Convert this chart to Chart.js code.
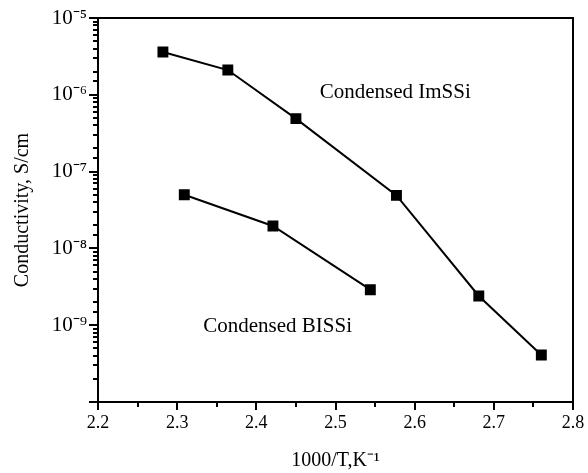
<!DOCTYPE html>
<html>
<head>
<meta charset="utf-8">
<script src="https://cdn.jsdelivr.net/npm/chart.js@4"></script>
<style>
  body { margin: 0; background: #fff; }
  #wrap { width: 588px; height: 473px; }
</style>
</head>
<body>
<div id="wrap"><canvas id="chart" width="588" height="473"></canvas></div>
<script>
// Conductivity vs inverse temperature
const imssiX = [2.282, 2.364, 2.450, 2.577, 2.681, 2.760];
const imssiY = [3.6e-6, 2.1e-6, 4.9e-7, 4.9e-8, 2.4e-9, 4.1e-10];

const bissiX = [2.309, 2.421, 2.544];
const bissiY = [5.0e-8, 1.96e-8, 2.9e-9];

const xMin = 2.2;
const xMax = 2.8;
const yMin = 1e-10;
const yMax = 1e-5;

const supDigits = { '-': '⁻', '0': '⁰', '1': '¹', '2': '²', '3': '³', '4': '⁴', '5': '⁵', '6': '⁶', '7': '⁷', '8': '⁸', '9': '⁹' };
function powLabel(exp) {
  return '10' + String(exp).split('').map(c => supDigits[c]).join('');
}

const toPoints = (xs, ys) => xs.map((x, i) => ({ x: x, y: ys[i] }));

const serif = '"Liberation Serif", "Times New Roman", serif';

// frame, outward tick marks and the two curve labels
const framePlugin = {
  id: 'frame',
  afterDraw(chart) {
    const { ctx, chartArea: a, scales } = chart;
    ctx.save();
    ctx.strokeStyle = '#000';
    ctx.lineWidth = 2;
    ctx.strokeRect(a.left, a.top, a.right - a.left, a.bottom - a.top);

    // y ticks (log)
    scales.y.ticks.forEach(t => {
      const p = Math.round(scales.y.getPixelForValue(t.value));
      const major = Math.abs(Math.log10(t.value) - Math.round(Math.log10(t.value))) < 1e-6;
      ctx.beginPath();
      ctx.moveTo(a.left, p);
      ctx.lineTo(a.left - (major ? 9 : 5), p);
      ctx.stroke();
    });

    // x ticks
    scales.x.ticks.forEach(t => {
      const p = Math.round(scales.x.getPixelForValue(t.value));
      const major = Math.round(t.value * 100) % 10 === 0;
      ctx.beginPath();
      ctx.moveTo(p, a.bottom);
      ctx.lineTo(p, a.bottom + (major ? 8 : 5));
      ctx.stroke();
    });

    ctx.fillStyle = '#000';
    ctx.font = '21px ' + serif;
    ctx.textBaseline = 'alphabetic';
    ctx.textAlign = 'left';
    ctx.fillText('Condensed ImSSi', scales.x.getPixelForValue(2.48), scales.y.getPixelForValue(9.2e-7));
    ctx.fillText('Condensed BISSi', scales.x.getPixelForValue(2.333), scales.y.getPixelForValue(8.2e-10));
    ctx.restore();
  }
};

const lineStyle = {
  borderColor: '#000',
  backgroundColor: '#000',
  borderWidth: 2,
  pointStyle: 'rect',
  pointRadius: 6.3,
  pointHoverRadius: 6.3,
  showLine: true,
  tension: 0
};

new Chart(document.getElementById('chart'), {
  type: 'scatter',
  data: {
    datasets: [
      Object.assign({ label: 'Condensed ImSSi', data: toPoints(imssiX, imssiY) }, lineStyle),
      Object.assign({ label: 'Condensed BISSi', data: toPoints(bissiX, bissiY) }, lineStyle)
    ]
  },
  options: {
    responsive: false,
    animation: false,
    layout: { padding: { top: 18, right: 15, left: 0, bottom: 0 } },
    plugins: {
      legend: { display: false },
      tooltip: { enabled: false }
    },
    scales: {
      x: {
        type: 'linear',
        min: xMin,
        max: xMax,
        grid: { display: false },
        border: { display: false },
        ticks: {
          stepSize: 0.05,
          autoSkip: false,
          maxRotation: 0,
          padding: 2,
          color: '#000',
          font: { family: serif, size: 18 },
          callback: v => (Math.round(v * 100) % 10 === 0 ? v.toFixed(1) : '')
        },
        title: {
          display: true,
          text: '1000/T,K⁻¹',
          color: '#000',
          font: { family: serif, size: 20 },
          padding: { top: 0, bottom: 0 }
        },
        afterFit(scale) {
          scale.height = 71;
          scale.paddingRight = 0;
        }
      },
      y: {
        type: 'logarithmic',
        min: yMin,
        max: yMax,
        grid: { display: false },
        border: { display: false },
        ticks: {
          autoSkip: false,
          padding: 3,
          color: '#000',
          font: { family: serif, size: 21 },
          callback: function (v) {
            const e = Math.log10(v);
            const r = Math.round(e);
            if (Math.abs(e - r) > 1e-6 || r === -10) return '';
            return powLabel(r);
          }
        },
        title: {
          display: true,
          text: 'Conductivity, S/cm',
          color: '#000',
          font: { family: serif, size: 20 },
          padding: { top: 11, bottom: 0 }
        },
        afterFit(scale) { scale.width = 98; }
      }
    }
  },
  plugins: [framePlugin]
});
</script>
</body>
</html>
